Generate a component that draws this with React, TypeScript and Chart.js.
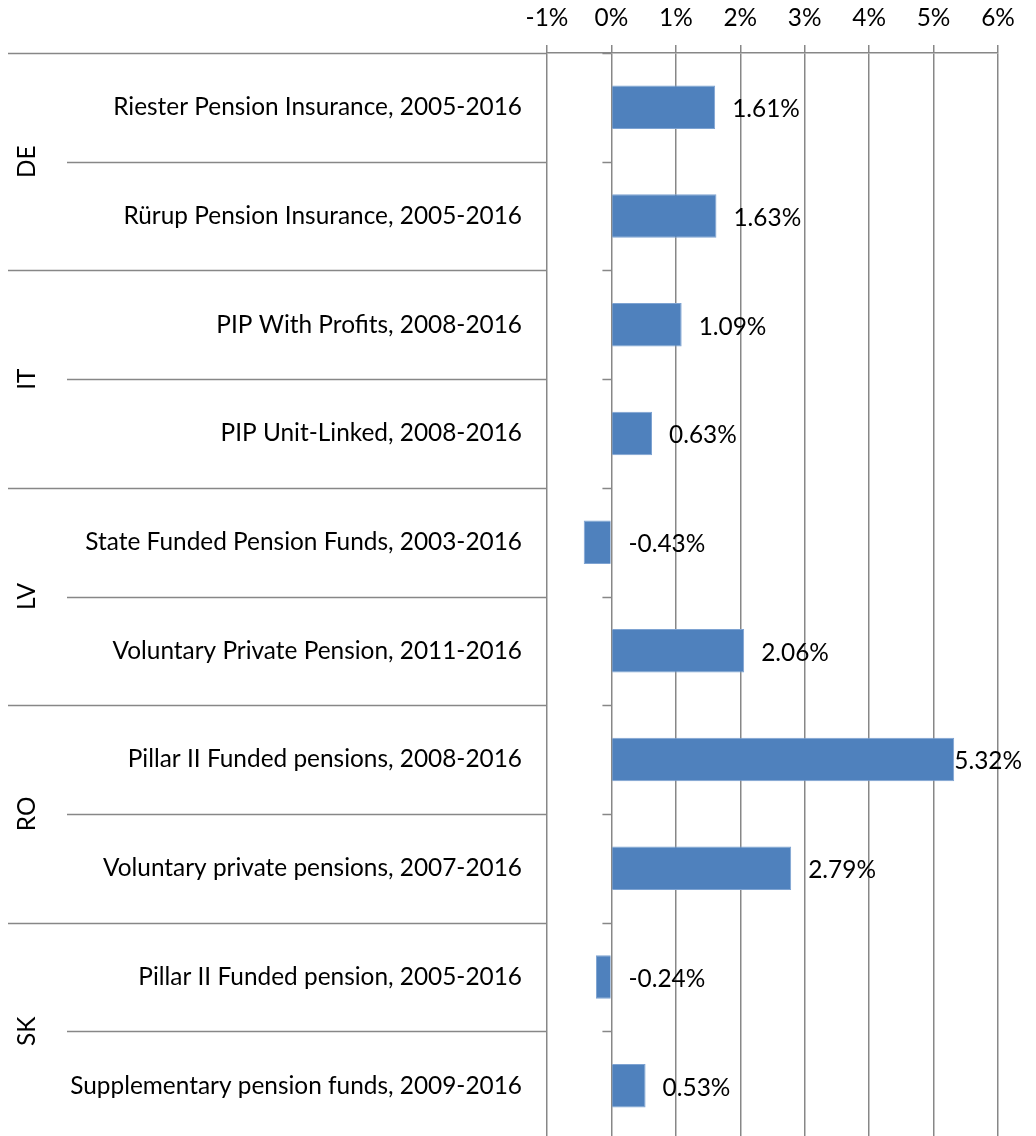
import { useEffect, useRef } from "react";
import { Chart, registerables } from "chart.js";

Chart.register(...registerables);

const categories = [
  "Riester Pension Insurance, 2005-2016",
  "Rürup Pension Insurance, 2005-2016",
  "PIP With Profits, 2008-2016",
  "PIP Unit-Linked, 2008-2016",
  "State Funded Pension Funds, 2003-2016",
  "Voluntary Private Pension, 2011-2016",
  "Pillar II Funded pensions, 2008-2016",
  "Voluntary private pensions, 2007-2016",
  "Pillar II Funded pension, 2005-2016",
  "Supplementary pension funds, 2009-2016",
];
const countries = ["DE", "IT", "LV", "RO", "SK"];
const values = [1.61, 1.63, 1.09, 0.63, -0.43, 2.06, 5.32, 2.79, -0.24, 0.53];
const xMin = -1;
const xMax = 6;

const GRID = "#878787";
const FONT_FAMILY = "Lato";
const FONT_SIZE = 24.4;
const BAR = "#4F81BD";

const decorations = {
  id: "decorations",
  afterDraw(chart: any) {
    const ctx = chart.ctx;
    const area = chart.chartArea;
    const ys = chart.scales.y;
    const xs = chart.scales.x;
    const n = categories.length;
    const boundary = (i: number) => {
      if (i === 0) return area.top;
      if (i >= n) return area.bottom;
      return (ys.getPixelForValue(i - 1) + ys.getPixelForValue(i)) / 2;
    };
    const x0 = xs.getPixelForValue(0);
    ctx.save();
    ctx.strokeStyle = GRID;
    ctx.lineWidth = 1.5;
    for (let i = 0; i <= n; i++) {
      const y = Math.round(boundary(i)) + 0.5;
      const startX = i % 2 === 0 ? 8 : 67;
      ctx.beginPath();
      ctx.moveTo(startX, y);
      ctx.lineTo(area.left, y);
      ctx.stroke();
      ctx.beginPath();
      ctx.moveTo(x0 - 9, y);
      ctx.lineTo(x0, y);
      ctx.stroke();
    }
    // country labels
    ctx.fillStyle = "#000";
    ctx.font = `${FONT_SIZE}px ${FONT_FAMILY}`;
    ctx.textAlign = "center";
    ctx.textBaseline = "middle";
    countries.forEach((c, g) => {
      const y = boundary(2 * g + 1);
      ctx.save();
      ctx.translate(27, y);
      ctx.rotate(-Math.PI / 2);
      ctx.fillText(c, 0, 0);
      ctx.restore();
    });
    // data labels
    ctx.textAlign = "left";
    values.forEach((v, i) => {
      const txt = v.toFixed(2) + "%";
      const w = ctx.measureText(txt).width;
      let x = xs.getPixelForValue(Math.max(v, 0)) + 17;
      if (x + w > 1022) x = 1022 - w;
      const y = ys.getPixelForValue(i) + 2;
      ctx.fillText(txt, x, y);
    });
    ctx.restore();
  },
};

export default function App() {
  const ref = useRef<HTMLCanvasElement | null>(null);
  useEffect(() => {
    if (!ref.current) return;
    const font = { family: FONT_FAMILY, size: FONT_SIZE };
    const chart = new Chart(ref.current, {
      type: "bar",
      data: {
        labels: categories,
        datasets: [
          {
            data: values,
            backgroundColor: BAR,
            borderColor: "#7EA3D2",
            borderWidth: 1,
            barPercentage: 0.4,
            categoryPercentage: 1,
          },
        ],
      },
      options: {
        indexAxis: "y",
        animation: false,
        responsive: false,
        maintainAspectRatio: false,
        layout: { padding: { left: 0, right: 38, top: 0, bottom: 0 } },
        plugins: { legend: { display: false }, tooltip: { enabled: false } },
        scales: {
          x: {
            position: "top",
            min: xMin,
            max: xMax,
            ticks: {
              stepSize: 1,
              callback: (v: any) => `${v}%`,
              font,
              color: "#000",
              padding: 12,
              maxRotation: 0,
            },
            grid: { color: GRID, lineWidth: 1.5, tickLength: 8, drawTicks: true },
            border: { display: true, color: GRID, width: 1.5 },
            afterFit(scale: any) {
              scale.height = 53;
            },
          },
          y: {
            ticks: { font, color: "#000", padding: 25, autoSkip: false },
            grid: { display: false, drawTicks: false },
            border: { display: false },
            afterFit(scale: any) {
              scale.width = 547;
              scale.paddingTop = 0;
              scale.paddingBottom = 0;
            },
          },
        },
      },
      plugins: [decorations],
    } as any);
    return () => chart.destroy();
  }, []);
  return (
    <div style={{ position: "absolute", left: 0, top: 0, width: 1036, height: 1140, background: "#fff" }}>
      <canvas ref={ref} width={1036} height={1140} style={{ width: 1036, height: 1140 }} />
    </div>
  );
}
